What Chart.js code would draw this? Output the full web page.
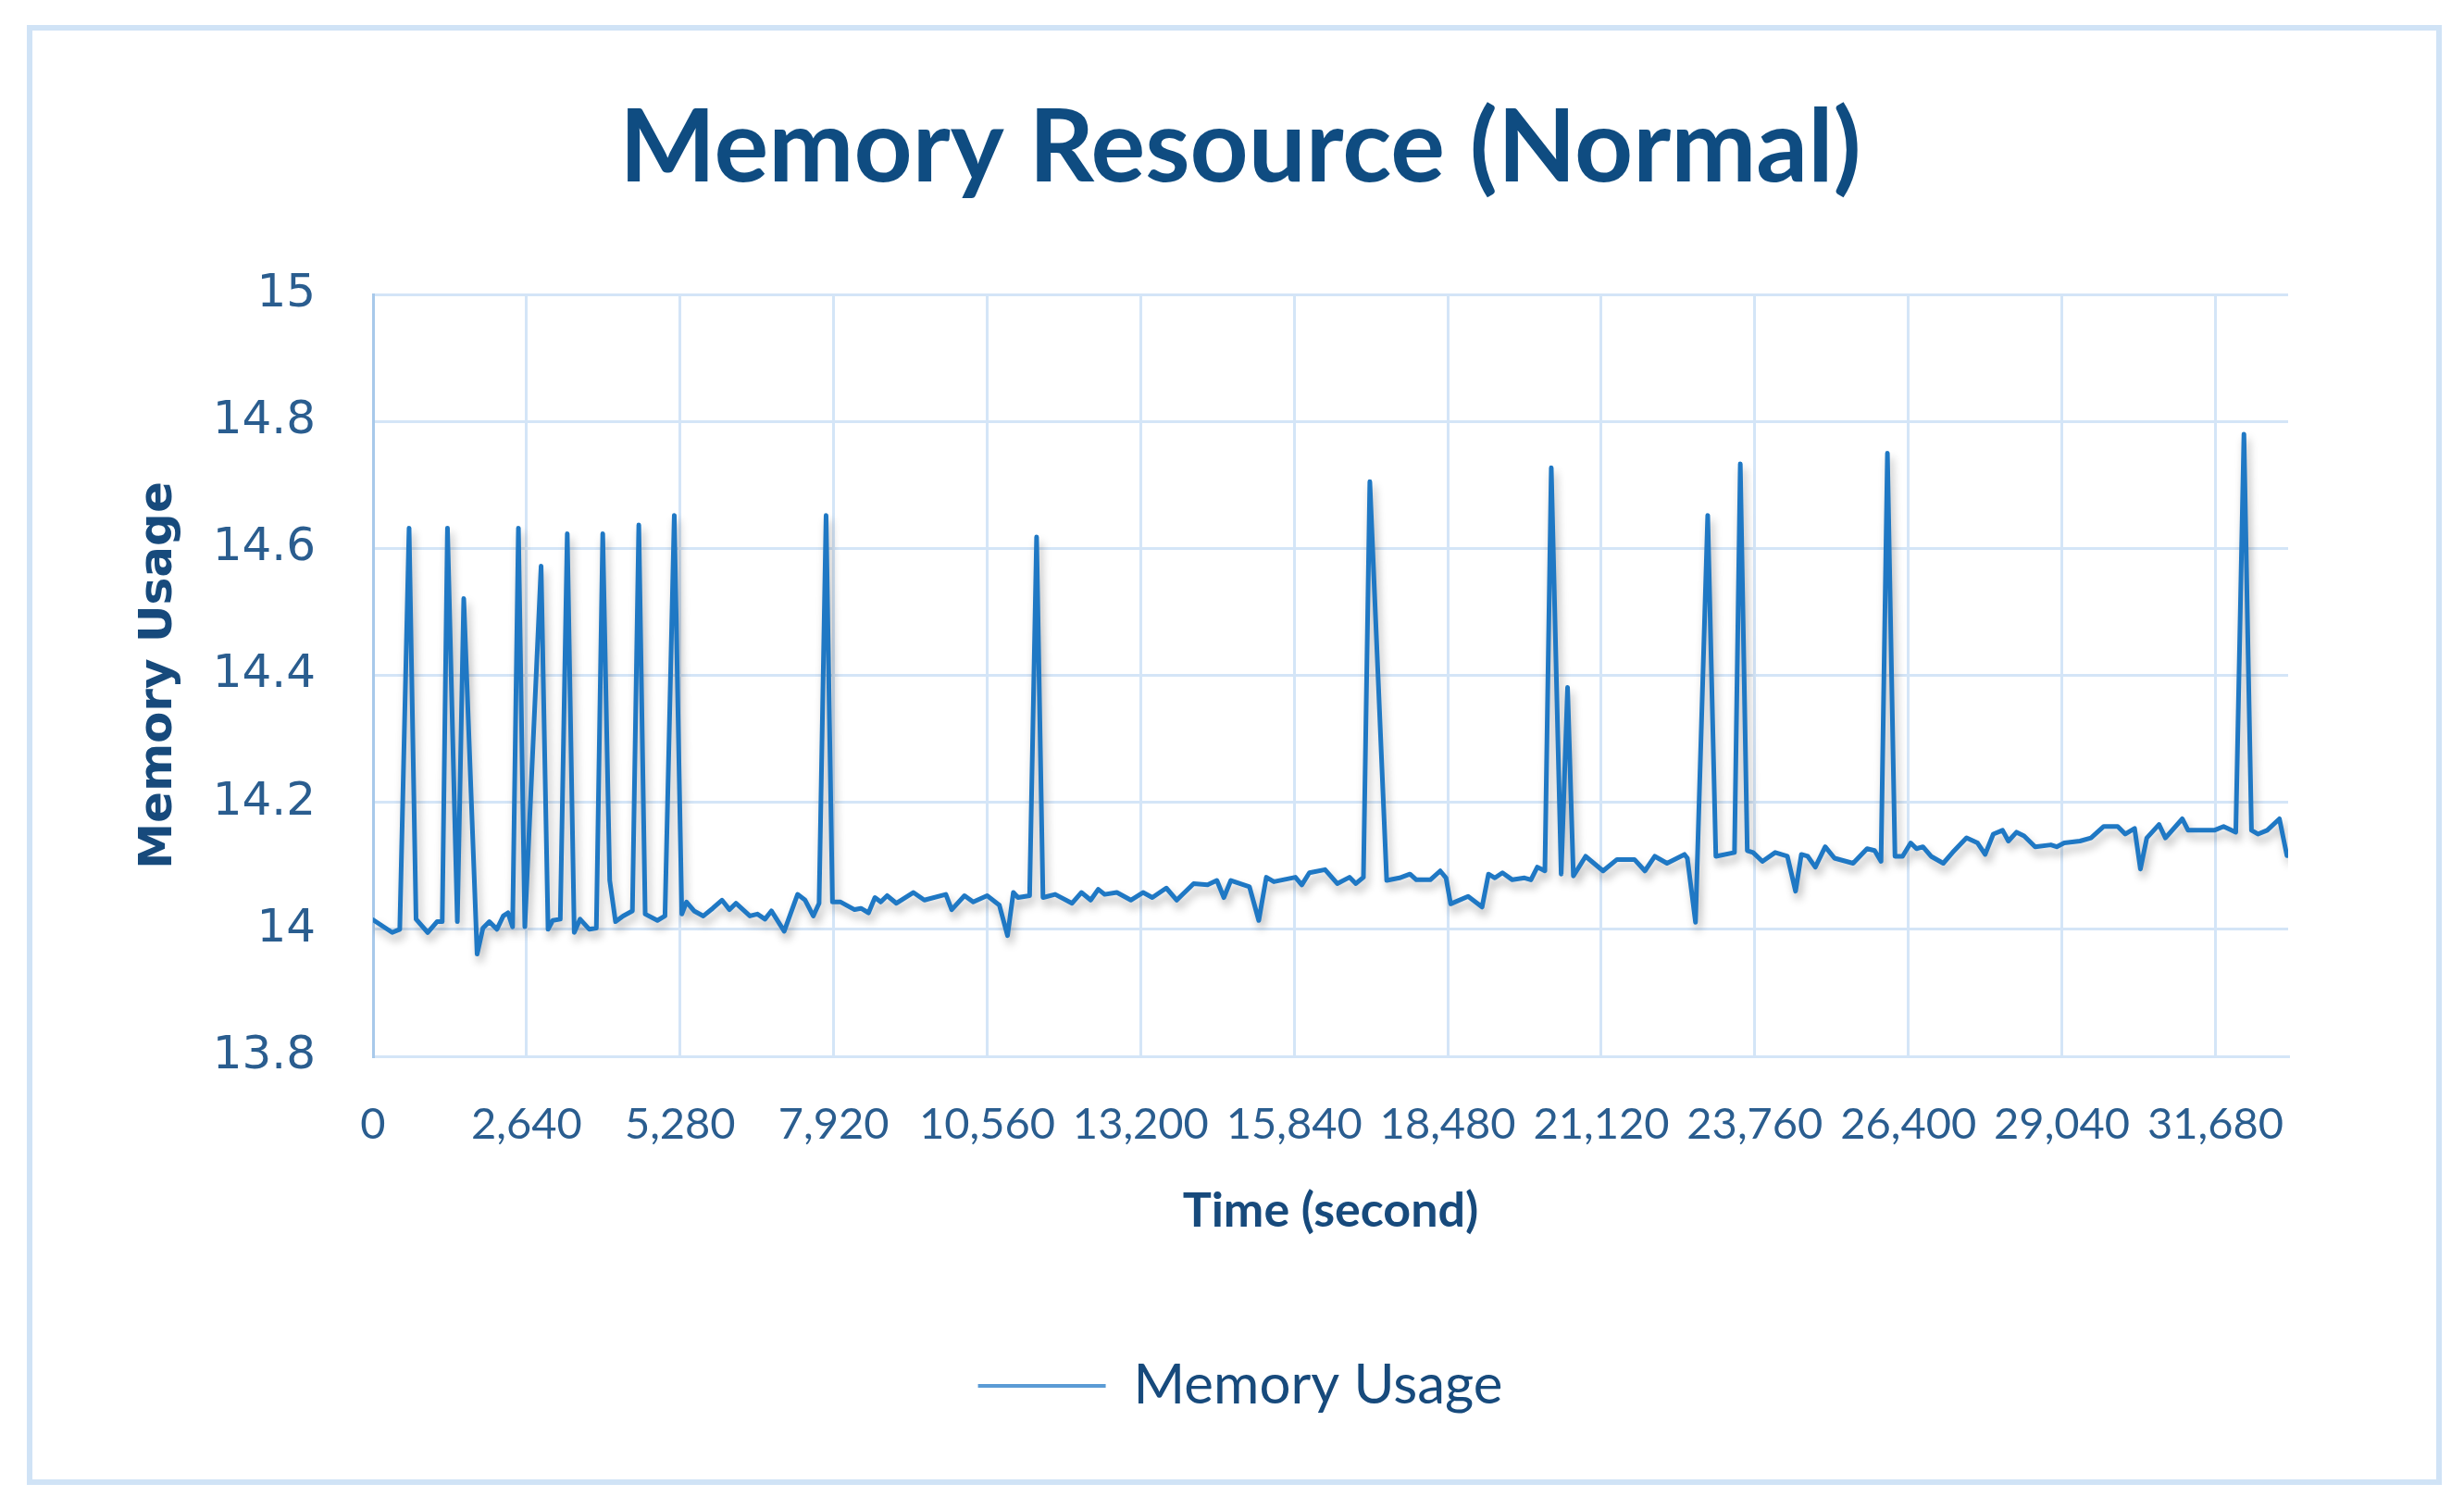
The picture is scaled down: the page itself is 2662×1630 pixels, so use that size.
<!DOCTYPE html>
<html>
<head>
<meta charset="utf-8">
<script src="https://cdn.jsdelivr.net/npm/chart.js@4.4.1/dist/chart.umd.min.js"></script>
<style>
html, body { margin: 0; padding: 0; background: #fff; }
#wrap { position: relative; width: 2662px; height: 1630px; }
#frame { position: absolute; left: 29px; top: 27px; width: 2609px; height: 1577px;
         border: 6px solid #d0e3f6; box-sizing: border-box; pointer-events: none; }
canvas { position: absolute; left: 0; top: 0; }
</style>
</head>
<body>
<div id="wrap">
  <canvas id="memChart" width="2662" height="1630"></canvas>
  <div id="frame"></div>
</div>
<script>
// time (seconds) of each vertex of the trace
var timeSec = [
  0, 330, 460, 620, 740, 940, 1100, 1190, 1280, 1450,
  1560, 1790, 1890, 2000, 2130, 2240, 2320, 2400, 2500, 2610,
  2890, 3010, 3090, 3220, 3340, 3460, 3560, 3720, 3840, 3950,
  4070, 4170, 4300, 4460, 4570, 4680, 4890, 5020, 5180, 5310,
  5390, 5520, 5680, 5840, 6000, 6130, 6240, 6480, 6610, 6740,
  6850, 7070, 7300, 7430, 7570, 7670, 7790, 7900, 8040, 8280,
  8390, 8520, 8630, 8730, 8840, 9000, 9290, 9480, 9850, 9950,
  10170, 10320, 10560, 10770, 10910, 11010, 11090, 11290, 11410, 11520,
  11730, 12020, 12180, 12340, 12470, 12580, 12790, 13030, 13240, 13400,
  13640, 13820, 14110, 14350, 14510, 14630, 14750, 15070, 15230, 15360,
  15490, 15860, 15970, 16100, 16370, 16580, 16790, 16900, 17030, 17140,
  17430, 17650, 17830, 17940, 18180, 18350, 18450, 18530, 18830, 19070,
  19180, 19290, 19420, 19590, 19800, 19910, 20020, 20150, 20260, 20430,
  20540, 20640, 20850, 21150, 21390, 21690, 21870, 22040, 22250, 22550,
  22600, 22740, 22950, 23090, 23410, 23510, 23630, 23730, 23890, 24110,
  24320, 24460, 24560, 24670, 24800, 24970, 25130, 25450, 25690, 25820,
  25930, 26040, 26170, 26300, 26440, 26540, 26650, 26790, 27000, 27160,
  27400, 27590, 27720, 27860, 28020, 28120, 28260, 28390, 28580, 28850,
  28950, 29080, 29350, 29540, 29760, 30000, 30130, 30290, 30390, 30500,
  30710, 30820, 31110, 31210, 31660, 31820, 32030, 32170, 32300, 32410,
  32570, 32780, 32910
];
var memUsage = [
  14.015, 13.995, 14.0, 14.632, 14.016, 13.995, 14.012, 14.012, 14.632, 14.012,
  14.521, 13.961, 14.002, 14.012, 14.0, 14.021, 14.026, 14.004, 14.632, 14.004,
  14.572, 14.0, 14.014, 14.016, 14.623, 13.995, 14.016, 14.0, 14.002, 14.623,
  14.077, 14.012, 14.021, 14.029, 14.637, 14.024, 14.014, 14.021, 14.652, 14.024,
  14.043, 14.029, 14.021, 14.033, 14.046, 14.031, 14.041, 14.021, 14.024, 14.016,
  14.029, 13.997, 14.055, 14.046, 14.021, 14.041, 14.652, 14.043, 14.043, 14.031,
  14.033, 14.026, 14.05, 14.043, 14.053, 14.041, 14.058, 14.046, 14.055, 14.031,
  14.053, 14.043, 14.053, 14.038, 13.99, 14.058, 14.05, 14.053, 14.618, 14.05,
  14.055, 14.041, 14.058, 14.046, 14.063, 14.055, 14.058, 14.046, 14.058, 14.05,
  14.065, 14.046, 14.072, 14.07, 14.077, 14.05, 14.077, 14.067, 14.014, 14.082,
  14.075, 14.082, 14.07, 14.089, 14.094, 14.072, 14.082, 14.072, 14.082, 14.705,
  14.077, 14.081, 14.087, 14.078, 14.078, 14.092, 14.081, 14.04, 14.052, 14.035,
  14.087, 14.081, 14.089, 14.078, 14.081, 14.078, 14.098, 14.092, 14.727, 14.087,
  14.381, 14.084, 14.115, 14.092, 14.11, 14.11, 14.092, 14.115, 14.104, 14.118,
  14.112, 14.011, 14.652, 14.115, 14.121, 14.733, 14.124, 14.121, 14.107, 14.121,
  14.115, 14.06, 14.118, 14.115, 14.098, 14.13, 14.112, 14.104, 14.127, 14.124,
  14.107, 14.75, 14.115, 14.115, 14.136, 14.127, 14.13, 14.115, 14.104, 14.121,
  14.144, 14.136, 14.118, 14.15, 14.156, 14.139, 14.153, 14.147, 14.13, 14.133,
  14.13, 14.136, 14.139, 14.144, 14.162, 14.162, 14.15, 14.159, 14.095, 14.144,
  14.165, 14.144, 14.174, 14.156, 14.156, 14.162, 14.153, 14.78, 14.156, 14.15,
  14.156, 14.174, 14.116
];
// x tick labels 0, 2,640 ... 31,680
var xTickValues = [0, 2640, 5280, 7920, 10560, 13200, 15840, 18480, 21120, 23760, 26400, 29040, 31680];
var xEnd = 32930;
var yMin = 13.8, yMax = 15, yStep = 0.2;

var lineColor = "#1f78c4";
var gridColor = "#d4e5f7";
var tickColor = "#2a5d8f";
var titleColor = "#174a7c";

var points = timeSec.map(function (t, i) { return { x: t, y: memUsage[i] }; });

// soft drop shadow under the trace, as in the original
var lineShadow = {
  id: "lineShadow",
  beforeDatasetDraw: function (chart) {
    var c = chart.ctx;
    c.save();
    c.shadowColor = "rgba(0,0,0,0.28)";
    c.shadowBlur = 10;
    c.shadowOffsetX = 3;
    c.shadowOffsetY = 7;
  },
  afterDatasetDraw: function (chart) {
    chart.ctx.restore();
  }
};

new Chart("memChart", {
  type: "line",
  data: {
    datasets: [{
      label: "Memory Usage",
      data: points,
      borderColor: lineColor,
      backgroundColor: lineColor,
      borderWidth: 5,
      borderJoinStyle: "round",
      borderCapStyle: "round",
      pointRadius: 0,
      tension: 0,
      fill: false
    }]
  },
  options: {
    responsive: false,
    animation: false,
    layout: { padding: { left: 147, right: 129, top: 40, bottom: 93 } },
    plugins: {
      title: {
        display: true,
        text: "Memory Resource (Normal)",
        color: "#0f4c81",
        font: { family: "Lato", size: 110, weight: "bold", lineHeight: 1.2 },
        padding: { top: 55, bottom: 91 }
      },
      legend: {
        position: "bottom",
        labels: {
          color: titleColor,
          font: { family: "Lato", size: 60 },
          boxWidth: 138,
          boxHeight: 4,
          generateLabels: function (chart) {
            var items = Chart.defaults.plugins.legend.labels.generateLabels(chart);
            items.forEach(function (it) {
              it.lineWidth = 0;
              it.fillStyle = "#5b9bd5";
              it.strokeStyle = "rgba(0,0,0,0)";
            });
            return items;
          }
        }
      },
      tooltip: { enabled: false }
    },
    scales: {
      x: {
        type: "linear",
        min: 0,
        max: xEnd,
        afterBuildTicks: function (axis) {
          axis.ticks = xTickValues.map(function (v) { return { value: v }; });
        },
        afterFit: function (axis) { axis.height = 316; },
        ticks: {
          autoSkip: false,
          maxRotation: 0,
          padding: 46,
          color: tickColor,
          font: { family: "Lato", size: 47 },
          callback: function (v) { return Math.round(v).toLocaleString("en-US"); }
        },
        grid: { color: gridColor, lineWidth: 3, drawTicks: false },
        border: { color: gridColor, width: 3 },
        title: {
          display: true,
          text: "Time (second)",
          color: titleColor,
          font: { family: "Lato", size: 52, weight: "bold", lineHeight: 1.2 },
          padding: { top: 0, bottom: 118 }
        }
      },
      y: {
        min: yMin,
        max: yMax,
        afterFit: function (axis) { axis.width = 256; },
        ticks: {
          stepSize: yStep,
          padding: 62,
          color: tickColor,
          font: { family: "DejaVu Sans", size: 50 },
          callback: function (v) { return String(+v.toFixed(1)); }
        },
        grid: { color: gridColor, lineWidth: 3, drawTicks: false },
        border: { color: "#a8c9ea", width: 3 },
        title: {
          display: true,
          text: "Memory Usage",
          color: titleColor,
          font: { family: "DejaVu Sans", size: 50, weight: "bold", lineHeight: 1 },
          padding: { top: 0, bottom: 0 }
        }
      },
      // empty right-hand axis keeps the plot ending where the original's does
      yRight: {
        position: "right",
        display: true,
        afterFit: function (axis) { axis.width = 61; },
        ticks: { display: false },
        grid: { display: false, drawTicks: false },
        border: { display: false }
      }
    }
  },
  plugins: [lineShadow]
});
</script>
</body>
</html>
